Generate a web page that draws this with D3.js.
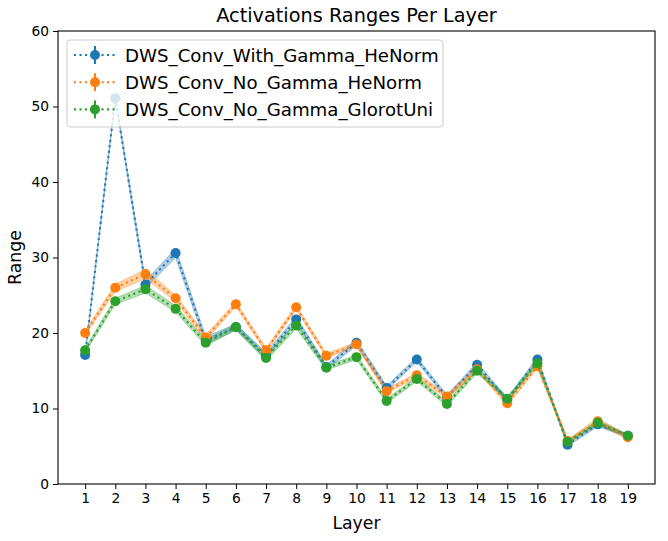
<!DOCTYPE html>
<html>
<head>
<meta charset="utf-8">
<script src="https://cdn.jsdelivr.net/npm/d3@7"></script>
<style>
body { margin: 0; background: #fff; }
text { font-family: "DejaVu Sans", sans-serif; }
</style>
</head>
<body>
<svg id="chart" width="668" height="541"></svg>
<script>
// data
var layers = [1,2,3,4,5,6,7,8,9,10,11,12,13,14,15,16,17,18,19];
var seriesNames = ["DWS_Conv_With_Gamma_HeNorm", "DWS_Conv_No_Gamma_HeNorm", "DWS_Conv_No_Gamma_GlorotUni"];
var colors = ["#1f77b4", "#ff7f0e", "#2ca02c"];
var withGammaHe = [17.1,51.1,26.4,30.6,19.0,20.8,17.0,21.8,15.5,18.7,12.7,16.5,11.5,15.8,11.1,16.5,5.2,7.9,6.4];
var noGammaHe   = [20.0,26.0,27.8,24.6,19.4,23.8,17.7,23.4,17.0,18.5,12.3,14.4,11.6,15.2,10.7,15.6,5.7,8.3,6.2];
var noGammaGlo  = [17.7,24.2,25.8,23.2,18.7,20.8,16.7,21.0,15.4,16.8,11.0,13.9,10.6,15.0,11.3,16.0,5.6,8.1,6.4];
// spread (shaded band half width)
var withGammaHeStd = [0.3,0.3,0.5,0.6,0.5,0.4,0.4,0.4,0.3,0.4,0.3,0.3,0.3,0.3,0.3,0.3,0.2,0.3,0.2];
var noGammaHeStd   = [0.3,0.5,0.6,0.4,0.4,0.3,0.3,0.3,0.3,0.3,0.3,0.3,0.3,0.3,0.3,0.3,0.2,0.4,0.3];
var noGammaGloStd  = [0.3,0.4,0.5,0.4,0.4,0.4,0.4,0.4,0.3,0.3,0.3,0.3,0.3,0.3,0.3,0.3,0.2,0.3,0.2];
var yTicks = [0,10,20,30,40,50,60];

var series = [
  {name: seriesNames[0], values: withGammaHe, std: withGammaHeStd, color: colors[0]},
  {name: seriesNames[1], values: noGammaHe, std: noGammaHeStd, color: colors[1]},
  {name: seriesNames[2], values: noGammaGlo, std: noGammaGloStd, color: colors[2]}
];

var margins = {top: 31, right: 13, bottom: 57, left: 58};
var width = 668 - margins.left - margins.right;
var height = 541 - margins.top - margins.bottom;

var svg = d3.select("#chart");
var g = svg.append("g")
  .attr("transform", "translate(" + margins.left + "," + margins.top + ")");

var xScale = d3.scaleLinear().domain([0.1, 19.9]).range([0, width]);
var yScale = d3.scaleLinear().domain([0, 60]).range([height, 0]);

g.append("defs").append("clipPath").attr("id", "clip")
  .append("rect").attr("width", width).attr("height", height);

var plot = g.append("g").attr("clip-path", "url(#clip)");

var area = d3.area()
  .x(function(d, i) { return xScale(layers[i]); })
  .y0(function(d, i) { return yScale(d.v - d.s); })
  .y1(function(d, i) { return yScale(d.v + d.s); });

var line = d3.line()
  .x(function(d, i) { return xScale(layers[i]); })
  .y(function(d) { return yScale(d); });

series.forEach(function(s) {
  var pts = s.values.map(function(v, i) { return {v: v, s: s.std[i]}; });
  plot.append("path")
    .datum(pts)
    .attr("d", area)
    .attr("fill", s.color)
    .attr("fill-opacity", 0.35)
    .attr("stroke", s.color)
    .attr("stroke-opacity", 0.35)
    .attr("stroke-width", 1);
});

series.forEach(function(s) {
  plot.append("path")
    .datum(s.values)
    .attr("d", line)
    .attr("fill", "none")
    .attr("stroke", s.color)
    .attr("stroke-width", 2.1)
    .attr("stroke-dasharray", "2.1,3.4");

  plot.selectAll(null)
    .data(s.values)
    .enter()
    .append("line")
    .attr("x1", function(d, i) { return xScale(layers[i]); })
    .attr("x2", function(d, i) { return xScale(layers[i]); })
    .attr("y1", function(d, i) { return yScale(d - s.std[i]); })
    .attr("y2", function(d, i) { return yScale(d + s.std[i]); })
    .attr("stroke", s.color)
    .attr("stroke-width", 2.1);

  plot.selectAll(null)
    .data(s.values)
    .enter()
    .append("circle")
    .attr("cx", function(d, i) { return xScale(layers[i]); })
    .attr("cy", function(d) { return yScale(d); })
    .attr("r", 5)
    .attr("fill", s.color);
});

// axes
var xAxis = d3.axisBottom(xScale).tickValues(layers).tickSize(5).tickPadding(4).tickFormat(d3.format("d"));
var yAxis = d3.axisLeft(yScale).tickValues(yTicks).tickSize(5).tickPadding(4);

var gx = g.append("g").attr("transform", "translate(0," + height + ")").call(xAxis);
var gy = g.append("g").call(yAxis);
[gx, gy].forEach(function(ax) {
  ax.select(".domain").remove();
  ax.selectAll("text").attr("font-size", 13.8).attr("fill", "#000");
  ax.selectAll("line").attr("stroke", "#000");
});

g.append("rect")
  .attr("width", width).attr("height", height)
  .attr("fill", "none").attr("stroke", "#000").attr("stroke-width", 1.1);

// labels
svg.append("text").attr("x", margins.left + width / 2).attr("y", 22)
  .attr("text-anchor", "middle").attr("font-size", 19.3).text("Activations Ranges Per Layer");
svg.append("text").attr("x", margins.left + width / 2).attr("y", 529)
  .attr("text-anchor", "middle").attr("font-size", 17.3).text("Layer");
svg.append("text").attr("transform", "translate(21," + (margins.top + height / 2) + ") rotate(-90)")
  .attr("text-anchor", "middle").attr("font-size", 17.3).text("Range");

// legend
var legend = g.append("g").attr("transform", "translate(9,9)");
legend.append("rect")
  .attr("width", 376).attr("height", 87).attr("rx", 3)
  .attr("fill", "#fff").attr("fill-opacity", 0.8)
  .attr("stroke", "#ccc").attr("stroke-width", 1);

series.forEach(function(s, i) {
  var row = legend.append("g").attr("transform", "translate(0," + (15 + i * 27.2) + ")");
  row.append("line").attr("x1", 7).attr("x2", 49).attr("y1", 0).attr("y2", 0)
    .attr("stroke", s.color).attr("stroke-width", 2.1).attr("stroke-dasharray", "2.1,3.4");
  row.append("line").attr("x1", 28).attr("x2", 28).attr("y1", -9).attr("y2", 9)
    .attr("stroke", s.color).attr("stroke-width", 2.1);
  row.append("circle").attr("cx", 28).attr("cy", 0).attr("r", 5).attr("fill", s.color);
  row.append("text").attr("x", 58).attr("y", 6.5).attr("font-size", 18.2).text(s.name);
});
</script>
</body>
</html>
